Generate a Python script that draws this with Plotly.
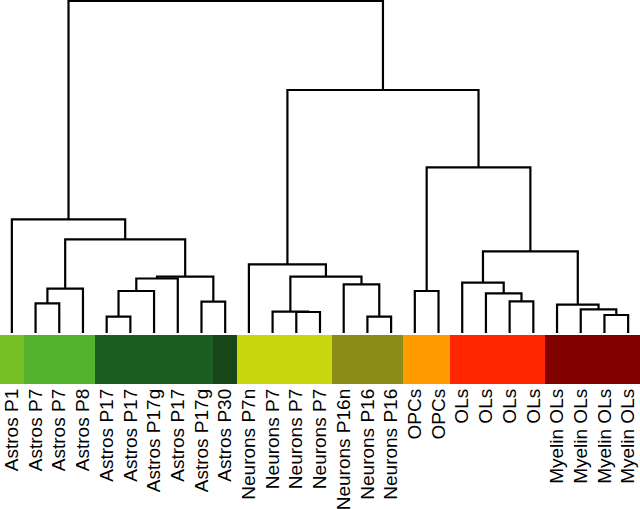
import plotly.graph_objects as go

# ---- data ----
leaf_labels = [
    "Astros P1", "Astros P7", "Astros P7", "Astros P8",
    "Astros P17", "Astros P17", "Astros P17g", "Astros P17", "Astros P17g", "Astros P30",
    "Neurons P7n", "Neurons P7", "Neurons P7", "Neurons P7",
    "Neurons P16n", "Neurons P16", "Neurons P16",
    "OPCs", "OPCs",
    "OLs", "OLs", "OLs", "OLs",
    "Myelin OLs", "Myelin OLs", "Myelin OLs", "Myelin OLs",
]
leaf_group = [0, 1, 1, 1, 2, 2, 2, 2, 2, 3, 4, 4, 4, 4, 5, 5, 5, 6, 6, 7, 7, 7, 7, 8, 8, 8, 8]
group_colors = ["#74c025", "#55b22c", "#1c5e21", "#184619", "#c8d60e",
                "#8a8c18", "#ff9a00", "#ff2600", "#800000"]

# merges: node ids start at len(leaf_labels); (left child, right child, height)
merge_left = [12, 11, 15, 14, 28, 10, 1, 33, 4, 35, 36, 8, 37, 34, 0,
              17, 21, 20, 19, 25, 24, 23, 45, 42, 32, 41]
merge_right = [13, 27, 16, 29, 30, 31, 2, 3, 5, 6, 7, 9, 38, 39, 40,
               18, 22, 43, 44, 26, 46, 47, 48, 49, 50, 51]
merge_height = [21.0, 21.3, 16.3, 48.7, 56.3, 68.7, 29.7, 44.3, 16.3, 42.0, 54.5, 31.3, 56.3, 93.7, 113.7,
                42.0, 31.7, 39.7, 50.3, 18.0, 23.7, 28.3, 81.7, 165.7, 243.0, 332.0]

# ---- build dendrogram ----
n = len(leaf_labels)
node_x = [i + 0.5 for i in range(n)]
node_h = [0.0] * n
xs, ys = [], []
for a, b, h in zip(merge_left, merge_right, merge_height):
    xa, xb = node_x[a], node_x[b]
    xs += [xa, xa, xb, xb, None]
    ys += [node_h[a], h, h, node_h[b], None]
    node_x.append((xa + xb) / 2)
    node_h.append(h)

fig = go.Figure()
fig.add_trace(go.Scatter(x=xs, y=ys, mode="lines",
                         line=dict(color="black", width=2.2),
                         xaxis="x", yaxis="y", hoverinfo="skip", showlegend=False,
                         cliponaxis=False))

ng = len(group_colors)
cs = []
for k, c in enumerate(group_colors):
    cs.append([k / ng, c])
    cs.append([(k + 1) / ng, c])
fig.add_trace(go.Heatmap(x=[i + 0.5 for i in range(n)], y=[0], z=[leaf_group],
                         colorscale=cs, zmin=-0.5, zmax=ng - 0.5, showscale=False,
                         xaxis="x", yaxis="y2", hoverinfo="skip"))

H = 509
plot_bottom = 384
fig.update_layout(
    width=640, height=H,
    margin=dict(l=0, r=0, t=0, b=H - plot_bottom, autoexpand=False),
    paper_bgcolor="white", plot_bgcolor="white",
    font=dict(family="Arial, Liberation Sans, sans-serif", color="black"),
    xaxis=dict(range=[0, n], tickvals=[i + 0.5 for i in range(n)], ticktext=leaf_labels,
               tickangle=-90, tickfont=dict(size=19, color="black"),
               showgrid=False, zeroline=False, showline=False, ticks="",
               anchor="y2", fixedrange=True, automargin=False),
    yaxis=dict(domain=[(plot_bottom - 333) / plot_bottom, 1], range=[0, 333],
               visible=False, fixedrange=True, automargin=False),
    yaxis2=dict(domain=[0, (plot_bottom - 335) / plot_bottom], range=[-0.5, 0.5],
                visible=False, fixedrange=True, automargin=False),
)

fig.write_html("out.html", config={"displayModeBar": False},
               post_script="document.body.style.margin='0';document.body.style.overflow='hidden';")
